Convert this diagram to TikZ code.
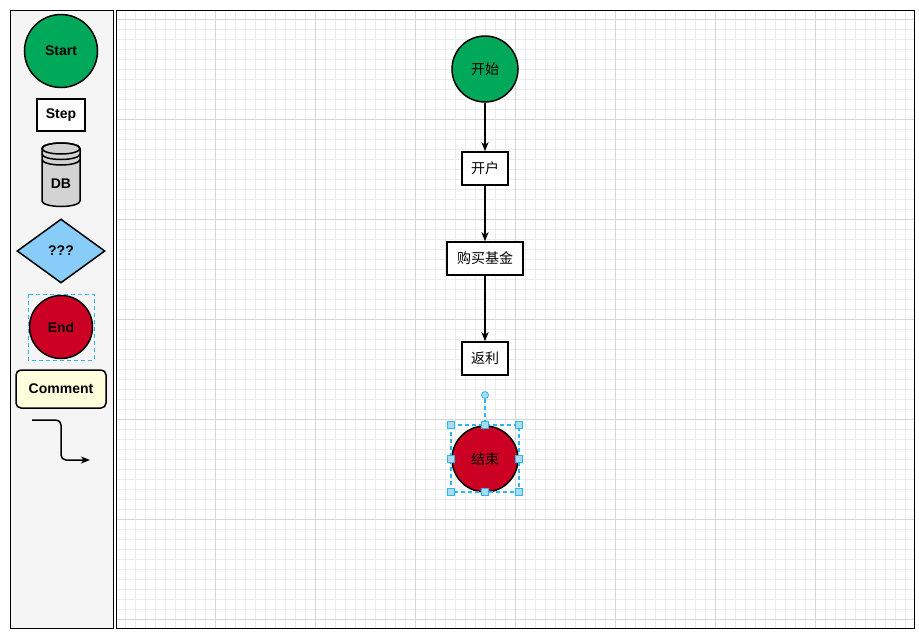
\documentclass[tikz,border=0pt]{standalone}
\usepackage{fontspec}
\setmainfont{Liberation Sans}
\newfontfamily\cjk{Noto Sans CJK SC}
\usepackage{tikz}
\usetikzlibrary{shapes.geometric,arrows.meta,positioning}

\definecolor{startgreen}{RGB}{0,168,90}
\definecolor{endred}{RGB}{204,0,34}
\definecolor{askblue}{RGB}{136,204,250}
\definecolor{dbgray}{RGB}{211,211,211}
\definecolor{notefill}{RGB}{255,255,221}
\definecolor{panelgray}{RGB}{245,245,245}
\definecolor{minorline}{RGB}{236,236,236}
\definecolor{majorline}{RGB}{214,214,214}
\definecolor{selcyan}{RGB}{41,182,242}
\definecolor{handlefill}{RGB}{170,220,240}

\begin{document}
\begin{tikzpicture}[
    x=1pt, y=-1pt,
    font=\fontsize{14pt}{16pt}\selectfont,
    startnode/.style={circle, draw, line width=1.5pt, fill=startgreen, inner sep=0pt},
    endnode/.style={circle, draw, line width=1.5pt, fill=endred, inner sep=0pt},
    stepbox/.style={rectangle, draw, line width=1.5pt, fill=white, minimum height=33pt, inner sep=0pt},
    askbox/.style={diamond, draw, line width=1.5pt, fill=askblue, aspect=1.375, minimum width=88pt, minimum height=64pt, inner sep=0pt},
    notebox/.style={rectangle, draw, line width=1.5pt, fill=notefill, rounded corners=5pt, minimum width=90pt, minimum height=38pt, inner sep=0pt},
    selbox/.style={draw=selcyan, line width=1.2pt, dash pattern=on 4pt off 3pt},
    handle/.style={rectangle, draw=selcyan, fill=handlefill, line width=0.8pt, minimum size=7pt, inner sep=0pt},
    arrow/.style={line width=1.5pt,-{Stealth[length=9pt,width=7pt,inset=2.5pt]}},
    minorgrid/.style={minorline, line width=1pt},
    majorgrid/.style={majorline, line width=1pt}
]
    \useasboundingbox (0,0) rectangle (919,632);

    % palette
    \draw[fill=panelgray, line width=1pt] (10,10) rectangle (113,628);

    % canvas and grid
    \fill[white] (116,10) rectangle (914,628);
    \foreach \x in {125,135,...,905}
        \draw[minorgrid] (\x,10) -- (\x,628);
    \foreach \y in {29,39,...,619}
        \draw[minorgrid] (116,\y) -- (914,\y);
    \foreach \x in {215,315,...,815}
        \draw[majorgrid] (\x,10) -- (\x,628);
    \foreach \y in {19,119,...,619}
        \draw[majorgrid] (116,\y) -- (914,\y);
    \draw[line width=1pt] (116,10) rectangle (914,628);

    % palette shapes
    \node[startnode, minimum size=73pt] (palStart) at (61,51) {\textbf{Start}};
    \node[stepbox, minimum width=48pt, minimum height=32pt] (palStep) at (61,115) {\textbf{Step}};

    \coordinate (dbTop) at (61,148.5);
    \filldraw[fill=dbgray, line width=1.5pt]
        (42,148.5) -- (42,201) arc[start angle=180, end angle=360, x radius=19pt, y radius=5.5pt]
        -- (80,148.5) arc[start angle=0, end angle=180, x radius=19pt, y radius=5.5pt] -- cycle;
    \draw[line width=1.5pt] (dbTop) ellipse[x radius=19pt, y radius=5.5pt];
    \draw[line width=1.5pt] (42,154) arc[start angle=180, end angle=360, x radius=19pt, y radius=5.5pt];
    \draw[line width=1.5pt] (42,159.5) arc[start angle=180, end angle=360, x radius=19pt, y radius=5.5pt];
    \node (palDB) at (61,184) {\textbf{DB}};

    \node[askbox] (palAsk) at (61,251) {\textbf{???}};
    \node[endnode, minimum size=63pt] (palEnd) at (61,327) {\textbf{End}};
    \draw[selbox, line width=1pt] (28,294) rectangle (94,360);
    \node[notebox] (palNote) at (61,389) {\textbf{Comment}};

    \coordinate (elbowIn) at (32,420);
    \coordinate (elbowOut) at (90,460);
    \draw[arrow, rounded corners=5pt] (elbowIn) -| (61,440) |- (elbowOut);

    % flow
    \node[startnode, minimum size=66pt] (begin) at (485,69) {\cjk 开始};
    \node[stepbox, minimum width=46pt] (open) at (485,168.5) {\cjk 开户};
    \node[stepbox, minimum width=76pt] (buy) at (485,258.5) {\cjk 购买基金};
    \node[stepbox, minimum width=46pt] (rebate) at (485,358.5) {\cjk 返利};
    \node[endnode, minimum size=66pt] (finish) at (485,459) {\cjk 结束};

    \draw[arrow] (begin) -- (open);
    \draw[arrow] (open) -- (buy);
    \draw[arrow] (buy) -- (rebate);

    % selection of the end node
    \draw[selbox] (451,425) rectangle (519,492);
    \node[circle, draw=selcyan, fill=handlefill, line width=0.8pt, minimum size=7pt, inner sep=0pt] (turn) at (485,395) {};
    \coordinate (selTop) at (485,425);
    \draw[selbox] (turn) -- (selTop);
    \foreach \p in {(451,425),(485,425),(519,425),(451,458.5),(519,458.5),(451,492),(485,492),(519,492)}
        \node[handle] at \p {};
\end{tikzpicture}
\end{document}
